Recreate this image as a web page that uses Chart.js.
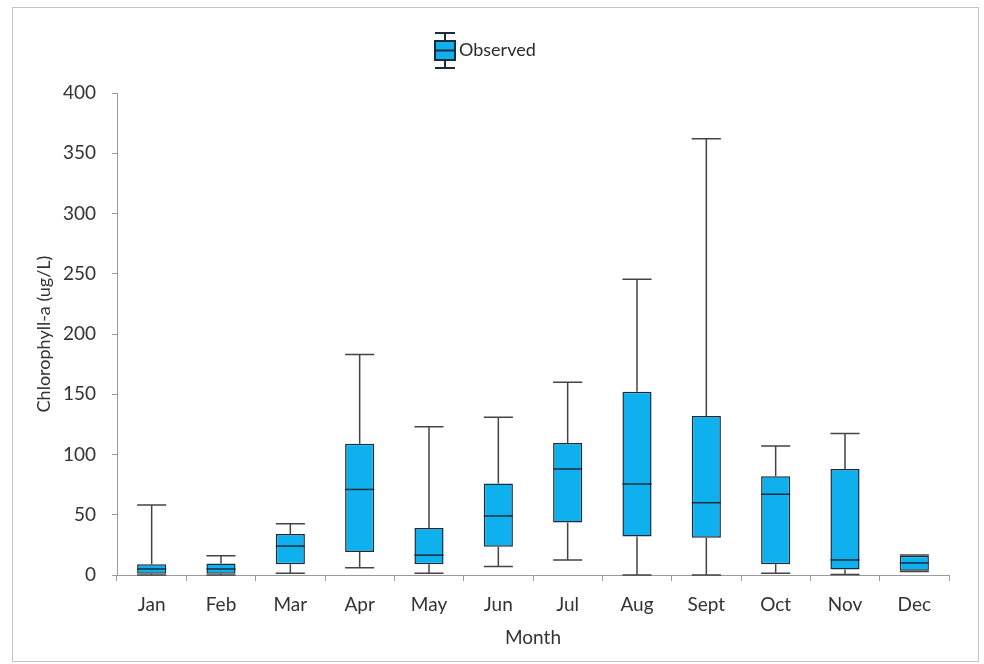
<!DOCTYPE html>
<html>
<head>
<meta charset="utf-8">
<script src="https://cdn.jsdelivr.net/npm/chart.js@4/dist/chart.umd.min.js"></script>
<style>
  html, body { margin: 0; padding: 0; background: #fff; }
  #wrap { width: 984px; height: 664px; position: relative; }
</style>
</head>
<body>
<div id="wrap"><canvas id="chlChart" width="984" height="664"></canvas></div>
<script>
// --- DATA ---
const months = ['Jan', 'Feb', 'Mar', 'Apr', 'May', 'Jun', 'Jul', 'Aug', 'Sept', 'Oct', 'Nov', 'Dec'];
const minVals    = [0, 0, 1.5, 6, 1.5, 7, 12.5, 0, 0, 1.5, 0.5, 3];
const q1Vals     = [1, 1, 9, 19, 9, 23.5, 43.5, 32, 31, 9, 4.5, 3.6];
const medianVals = [5, 5, 24, 71, 16.5, 49, 88, 75.5, 60, 67, 12.5, 10];
const q3Vals     = [9, 9.5, 34, 109, 39, 76, 109.5, 152, 132, 82, 88, 16];
const maxVals    = [58, 16, 42.5, 183, 123, 131, 160, 245.5, 362, 107, 117.5, 16.5];
const yTicks     = [0, 50, 100, 150, 200, 250, 300, 350, 400];

const BOX_FILL = '#0fb0ee';
const BOX_EDGE = '#1a2c3c';
const WHISKER = '#444444';
const FONT = 'Lato, "Open Sans", sans-serif';

// --- PLUGINS ---
// whiskers, caps and median lines on top of the floating bars
const whiskerPlugin = {
    id: 'whiskers',
    afterDatasetsDraw(chart) {
        const ctx = chart.ctx;
        const y = chart.scales.y;
        const meta = chart.getDatasetMeta(0);
        ctx.save();
        meta.data.forEach((bar, i) => {
            const half = bar.width / 2;
            const x = bar.x;
            const yMin = y.getPixelForValue(minVals[i]);
            const yQ1 = y.getPixelForValue(q1Vals[i]);
            const yQ3 = y.getPixelForValue(q3Vals[i]);
            const yMax = y.getPixelForValue(maxVals[i]);
            const yMed = y.getPixelForValue(medianVals[i]);

            ctx.strokeStyle = WHISKER;
            ctx.lineWidth = 1.5;
            ctx.beginPath();
            ctx.moveTo(x, yQ3); ctx.lineTo(x, yMax);
            ctx.moveTo(x - half, yMax); ctx.lineTo(x + half, yMax);
            ctx.moveTo(x, yQ1); ctx.lineTo(x, yMin);
            ctx.moveTo(x - half, yMin); ctx.lineTo(x + half, yMin);
            ctx.stroke();

            ctx.strokeStyle = BOX_EDGE;
            ctx.lineWidth = 1.5;
            ctx.beginPath();
            ctx.moveTo(x - half, yMed); ctx.lineTo(x + half, yMed);
            ctx.stroke();
        });
        ctx.restore();
    }
};

// frame and the box-plot legend entry
const framePlugin = {
    id: 'frame',
    beforeDraw(chart) {
        const ctx = chart.ctx;
        ctx.save();
        ctx.fillStyle = '#fff';
        ctx.fillRect(0, 0, chart.width, chart.height);
        ctx.strokeStyle = '#c4c4c4';
        ctx.lineWidth = 1;
        ctx.strokeRect(12.5, 7.5, 966, 654);
        ctx.restore();
    },
    afterDraw(chart) {
        const ctx = chart.ctx;
        const cx = 445, top = 33, bottom = 68;
        ctx.save();
        ctx.strokeStyle = BOX_EDGE;
        ctx.lineWidth = 2;
        ctx.beginPath();
        ctx.moveTo(cx - 10, top); ctx.lineTo(cx + 10, top);
        ctx.moveTo(cx, top); ctx.lineTo(cx, bottom);
        ctx.moveTo(cx - 10, bottom); ctx.lineTo(cx + 10, bottom);
        ctx.stroke();
        ctx.fillStyle = BOX_FILL;
        ctx.fillRect(cx - 10, 41, 20, 19);
        ctx.strokeRect(cx - 10, 41, 20, 19);
        ctx.beginPath();
        ctx.moveTo(cx - 10, 50.5); ctx.lineTo(cx + 10, 50.5);
        ctx.stroke();
        ctx.fillStyle = '#2a2a2a';
        ctx.font = '18px ' + FONT;
        ctx.textBaseline = 'middle';
        ctx.fillText('Observed', 459, 50);
        ctx.restore();
    }
};

// --- CHART ---
const boxRanges = months.map((m, i) => [q1Vals[i], q3Vals[i]]);

new Chart(document.getElementById('chlChart'), {
    type: 'bar',
    data: {
        labels: months,
        datasets: [{
            label: 'Observed',
            data: boxRanges,
            backgroundColor: BOX_FILL,
            borderColor: BOX_EDGE,
            borderWidth: 1.5,
            borderSkipped: false,
            categoryPercentage: 1,
            barPercentage: 0.42
        }]
    },
    options: {
        responsive: false,
        animation: false,
        layout: { padding: { left: 12, right: 35, top: 93, bottom: 4 } },
        plugins: {
            legend: { display: false },
            tooltip: { enabled: false }
        },
        scales: {
            x: {
                afterFit: (s) => { s.height = 85; },
                grid: { drawOnChartArea: false, drawTicks: true, tickLength: 6, color: '#9a9a9a', offset: true },
                border: { color: '#9a9a9a' },
                ticks: { color: '#333', font: { family: FONT, size: 19 }, padding: 12 },
                title: { display: true, text: 'Month', color: '#333', font: { family: FONT, size: 19 }, padding: { top: 2, bottom: 11 } }
            },
            y: {
                min: 0,
                max: 400,
                afterFit: (s) => { s.width = 105; },
                afterBuildTicks: (s) => { s.ticks = yTicks.map(v => ({ value: v })); },
                grid: { drawOnChartArea: false, drawTicks: true, tickLength: 5, color: '#9a9a9a' },
                border: { color: '#9a9a9a' },
                ticks: { color: '#333', font: { family: FONT, size: 19 }, padding: 16 },
                title: { display: true, text: 'Chlorophyll-a (ug/L)', color: '#333', font: { family: FONT, size: 18 }, padding: { top: 21, bottom: 4 } }
            }
        }
    },
    plugins: [framePlugin, whiskerPlugin]
});
</script>
</body>
</html>
